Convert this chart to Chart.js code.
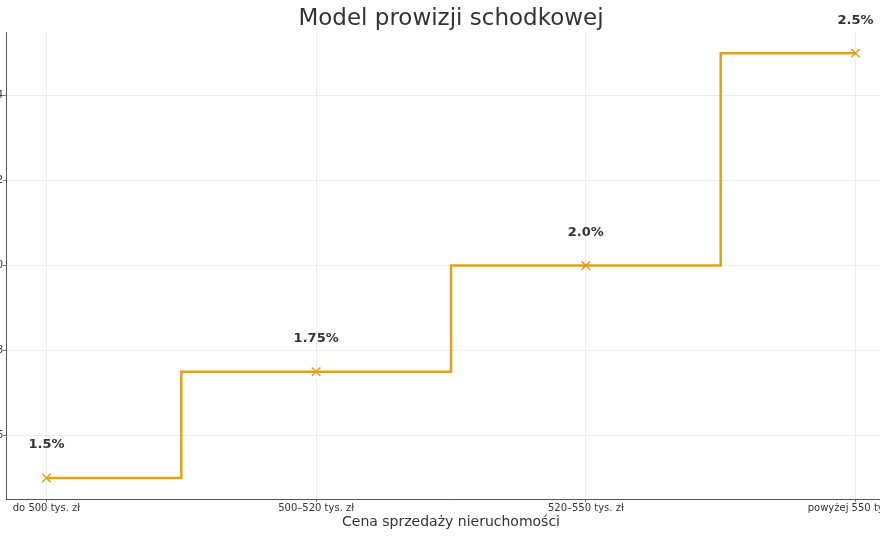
<!DOCTYPE html>
<html>
<head>
<meta charset="utf-8">
<script src="https://cdn.jsdelivr.net/npm/chart.js@4"></script>
<style>
  html, body { margin: 0; padding: 0; background: #fff; overflow: hidden; width: 880px; height: 540px; }
  #wrap { position: absolute; left: -40px; top: 0; width: 986px; height: 540px; }
</style>
</head>
<body>
<div id="wrap"><canvas id="chart"></canvas></div>
<script>
// price brackets and commission rates
const categories = ['do 500 tys. zł', '500–520 tys. zł', '520–550 tys. zł', 'powyżej 550 tys. zł'];
const rates = [1.5, 1.75, 2.0, 2.5];
const rateLabels = ['1.5%', '1.75%', '2.0%', '2.5%'];
const yTicks = [1.6, 1.8, 2.0, 2.2, 2.4];
const chartTitle = 'Model prowizji schodkowej';

const lineColor = '#e2a214';

// title centred over the plot + labels above each point
const textPlugin = {
    id: 'textPlugin',
    afterDatasetsDraw(chart) {
        const ctx = chart.ctx;
        const area = chart.chartArea;
        const meta = chart.getDatasetMeta(0);
        ctx.save();
        ctx.fillStyle = '#333';
        ctx.textAlign = 'center';
        ctx.textBaseline = 'middle';
        ctx.font = '23px "DejaVu Sans"';
        ctx.fillText(chartTitle, (area.left + area.right) / 2, 19);
        ctx.font = 'bold 13px "DejaVu Sans"';
        meta.data.forEach((pt, i) => {
            ctx.fillText(rateLabels[i], pt.x, pt.y - 33);
        });
        ctx.restore();
    }
};

let ctx = document.getElementById('chart').getContext('2d');

let stepChart = new Chart(ctx, {
    type: 'line',
    data: {
        datasets: [{
            data: rates.map((r, i) => ({x: i, y: r})),
            stepped: 'middle',
            borderColor: lineColor,
            borderWidth: 2.5,
            pointStyle: 'crossRot',
            pointRadius: 6,
            pointBorderWidth: 1.5,
            pointBorderColor: lineColor,
            pointBackgroundColor: lineColor,
            fill: false
        }]
    },
    options: {
        responsive: true,
        maintainAspectRatio: false,
        animation: false,
        layout: { padding: { left: 0, right: 50, top: 32, bottom: 9 } },
        plugins: {
            legend: { display: false },
            tooltip: { enabled: false },
            title: { display: false }
        },
        scales: {
            x: {
                type: 'linear',
                min: -0.15,
                max: 3.15,
                afterBuildTicks: (scale) => {
                    scale.ticks = categories.map((c, i) => ({value: i}));
                },
                ticks: {
                    color: '#333',
                    font: { family: 'DejaVu Sans', size: 10 },
                    padding: 0,
                    maxRotation: 0,
                    autoSkip: false,
                    callback: (v) => categories[v]
                },
                grid: {
                    color: 'rgba(0,0,0,0.09)',
                    lineWidth: 0.8,
                    tickColor: '#555',
                    tickLength: 3
                },
                border: { color: '#555', width: 1 },
                title: {
                    display: true,
                    text: 'Cena sprzedaży nieruchomości',
                    color: '#333',
                    font: { family: 'DejaVu Sans', size: 14 },
                    padding: { top: 0, bottom: 0 }
                }
            },
            y: {
                min: 1.45,
                max: 2.55,
                afterBuildTicks: (scale) => {
                    scale.ticks = yTicks.map(v => ({value: v}));
                },
                afterFit: (scale) => { scale.width = 46; },
                ticks: {
                    color: '#333',
                    font: { family: 'DejaVu Sans', size: 10 },
                    padding: 0,
                    callback: (v) => v.toFixed(1)
                },
                grid: {
                    color: 'rgba(0,0,0,0.09)',
                    lineWidth: 0.8,
                    tickColor: '#555',
                    tickLength: 3
                },
                border: { color: '#555', width: 1 }
            }
        }
    },
    plugins: [textPlugin]
});
</script>
</body>
</html>
